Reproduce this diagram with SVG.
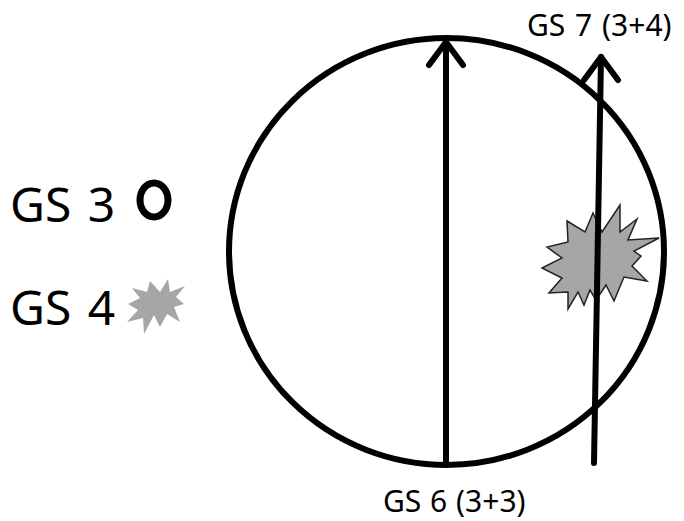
<svg xmlns="http://www.w3.org/2000/svg" width="684" height="521" viewBox="0 0 684 521">
<style>
.t{font-family:"Noto Sans","Open Sans","Liberation Sans",sans-serif;fill:#000}
.ln{stroke:#000;stroke-width:6;fill:none;stroke-linecap:round;stroke-linejoin:round}
.star{fill:#a6a6a6;stroke:#222;stroke-width:1.5;stroke-linejoin:miter}
</style>
<rect width="684" height="521" fill="#fff"/>
<g id="legend-gs3">
<text class="t" x="10" y="222" font-size="48" word-spacing="4">GS 3</text>
<ellipse cx="154" cy="200" rx="14" ry="17" fill="none" stroke="#000" stroke-width="7"/>
</g>
<g id="legend-gs4">
<text class="t" x="10" y="325" font-size="48" word-spacing="4">GS 4</text>
<polygon fill="#a6a6a6" points="160,292 168,279 170,292 185,286 176,297 184,304 174,307 180,322 167,314 160,327 154,315 144,334 143,318 127,322 138,310 128,304 140,298 132,288 147,292 150,281"/>
</g>
<g id="circle">
<ellipse cx="446.5" cy="251.5" rx="217.5" ry="213.5" class="ln"/>
</g>
<g id="star">
<polygon class="star" points="593,213 602,232 620,205 620,232 637,219 628,240 659,238 634,251 641,256 632,266 647,281 624,277 614,301 606,285 596,300 590,290 584,305 578,292 568,309 568,292 549,293 562,278 542,268 562,258 547,247 568,242 567,221 585,232"/>
</g>
<g id="connectors">
<line class="ln" x1="446" y1="463" x2="446" y2="42"/>
<polyline class="ln" points="429,65 446,42 463,65"/>
<line class="ln" x1="594" y1="463" x2="601" y2="57"/>
<polyline class="ln" points="584,80 601,57 618,80"/>
</g>
<g id="labels">
<text class="t" x="383" y="512" font-size="30" word-spacing="1">GS 6 (3+3)</text>
<text class="t" x="527" y="36" font-size="30" word-spacing="2">GS 7 (3+4)</text>
</g>
</svg>
